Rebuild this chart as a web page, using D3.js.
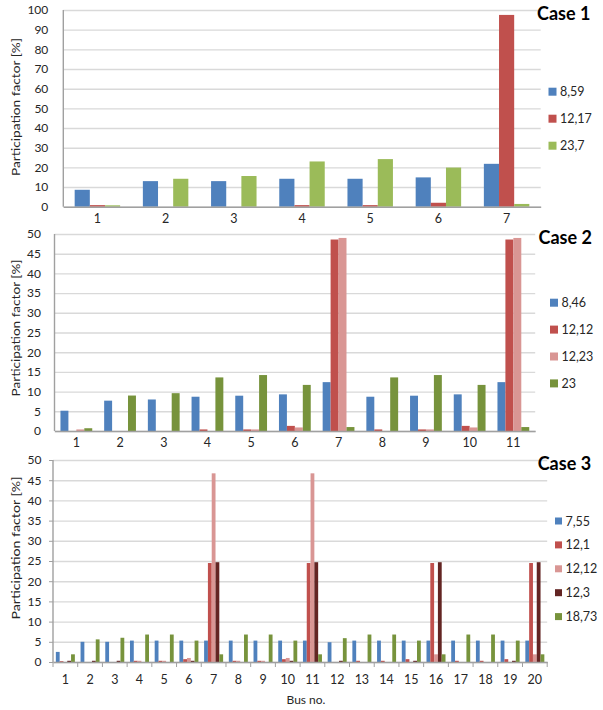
<!DOCTYPE html>
<html>
<head>
<meta charset="utf-8">
<script src="https://cdn.jsdelivr.net/npm/d3@7/dist/d3.min.js"></script>
<style>
  body { margin: 0; background: #fff; }
  svg { display: block; }
  text { font-family: Lato, "Open Sans", sans-serif; }
</style>
</head>
<body>
<svg id="chart" width="603" height="710"></svg>
<script>
// ---------------- DATA ----------------
// Case 1
const case1Buses = ["1", "2", "3", "4", "5", "6", "7"];
const case1Series = ["8,59", "12,17", "23,7"];
const case1_859 = [8.6, 13.0, 13.0, 14.2, 14.2, 14.9, 21.8];
const case1_1217 = [0.8, 0, 0, 0.8, 0.8, 2.0, 97.5];
const case1_237 = [0.7, 14.2, 15.6, 23.0, 24.2, 19.9, 1.4];
const case1Ticks = [0, 10, 20, 30, 40, 50, 60, 70, 80, 90, 100];

// Case 2
const case2Buses = ["1", "2", "3", "4", "5", "6", "7", "8", "9", "10", "11"];
const case2Series = ["8,46", "12,12", "12,23", "23"];
const case2_846 = [5.15, 7.7, 8.0, 8.7, 8.96, 9.3, 12.4, 8.7, 8.96, 9.3, 12.4];
const case2_1212 = [0, 0, 0, 0.4, 0.4, 1.3, 48.6, 0.4, 0.4, 1.3, 48.6];
const case2_1223 = [0.4, 0, 0, 0, 0.4, 0.9, 49.0, 0, 0.4, 0.9, 49.0];
const case2_23 = [0.7, 9.0, 9.6, 13.6, 14.2, 11.7, 1.0, 13.6, 14.2, 11.7, 1.0];
const case2Ticks = [0, 5, 10, 15, 20, 25, 30, 35, 40, 45, 50];

// Case 3
const case3Buses = ["1", "2", "3", "4", "5", "6", "7", "8", "9", "10",
                    "11", "12", "13", "14", "15", "16", "17", "18", "19", "20"];
const case3Series = ["7,55", "12,1", "12,12", "12,3", "18,73"];
const case3_755 = [2.5, 5.0, 5.0, 5.3, 5.3, 5.3, 5.3, 5.3, 5.3, 5.3, 5.3, 4.9, 5.3, 5.3, 5.3, 5.3, 5.3, 5.3, 5.3, 5.3];
const case3_121 = [0.2, 0, 0, 0.3, 0.3, 0.7, 24.5, 0.3, 0.3, 0.7, 24.5, 0, 0.3, 0.3, 0.7, 24.5, 0.3, 0.3, 0.7, 24.5];
const case3_1212 = [0, 0, 0, 0.3, 0.3, 1.0, 46.7, 0.3, 0.3, 1.0, 46.7, 0, 0, 0, 0, 1.9, 0, 0, 0, 1.9];
const case3_123 = [0.3, 0.3, 0.3, 0, 0, 0.3, 24.7, 0, 0, 0.3, 24.7, 0.3, 0, 0, 0.3, 24.7, 0, 0, 0.3, 24.7];
const case3_1873 = [1.9, 5.6, 6.0, 6.8, 6.8, 5.3, 1.9, 6.8, 6.8, 5.3, 1.9, 5.9, 6.8, 6.8, 5.3, 1.9, 6.8, 6.8, 5.3, 1.9];
const case3Ticks = [0, 5, 10, 15, 20, 25, 30, 35, 40, 45, 50];

const yTitle = "Participation factor [%]";
const xTitle = "Bus no.";

// ---------------- STYLE ----------------
const C = {
  blue: "#4f81bd", red: "#c0504d", lgreen: "#9bbb59",
  pink: "#d99694", dred: "#632523", olive: "#77933c"
};
const gridColor = "#d9d9d9";
const axisColor = "#a0a0a0";
const textColor = "#262626";

const svg = d3.select("#chart");

function drawPanel(cfg) {
  const g = svg.append("g");
  const n = cfg.series.length;
  const pi = 1.5 / (n + 1.5);
  const x0 = d3.scaleBand().domain(cfg.buses)
    .range([cfg.left, cfg.right]).paddingInner(pi).paddingOuter(pi / 2);
  const x1 = d3.scaleBand().domain(d3.range(n)).range([0, x0.bandwidth()]);
  const y = d3.scaleLinear().domain([0, cfg.yMax]).range([cfg.bottom, cfg.top]);

  // gridlines + y labels
  const yAxis = d3.axisLeft(y).tickValues(cfg.ticks)
    .tickSize(-(cfg.right - cfg.left)).tickPadding(cfg.tickPad)
    .tickFormat(d3.format("d"));
  const ya = g.append("g").attr("transform", `translate(${cfg.left},0)`).call(yAxis);
  ya.select(".domain").remove();
  ya.selectAll(".tick line").attr("stroke", gridColor).attr("stroke-width", 1.4);
  ya.selectAll(".tick text").attr("fill", textColor)
    .style("font-size", cfg.tickFont + "px");
  if (cfg.yTicksOut) {
    ya.selectAll(".tick").append("line")
      .attr("x1", -4).attr("x2", 0).attr("stroke", axisColor).attr("stroke-width", 1);
  }

  // bars
  const groups = g.append("g").selectAll("g").data(cfg.buses).join("g")
    .attr("transform", d => `translate(${x0(d)},0)`);
  groups.selectAll("rect")
    .data((d, i) => cfg.values.map((arr, s) => ({ s, v: arr[i] })))
    .join("rect")
    .attr("x", d => x1(d.s))
    .attr("width", x1.bandwidth())
    .attr("y", d => y(d.v))
    .attr("height", d => y(0) - y(d.v))
    .attr("fill", d => cfg.colors[d.s]);

  // y axis line
  g.append("line").attr("x1", cfg.left).attr("x2", cfg.left)
    .attr("y1", cfg.top).attr("y2", cfg.bottom)
    .attr("stroke", axisColor).attr("stroke-width", 1.4);

  // x axis
  const xAxis = d3.axisBottom(x0).tickSize(0).tickPadding(cfg.xPad);
  const xa = g.append("g").attr("transform", `translate(0,${cfg.bottom})`).call(xAxis);
  xa.select(".domain").attr("stroke", axisColor).attr("stroke-width", 1.6);
  xa.selectAll(".tick text").attr("fill", textColor)
    .style("font-size", cfg.xFont + "px");
  if (cfg.xTicks) {
    const step = x0.step();
    const bounds = d3.range(cfg.buses.length + 1).map(i => cfg.left + i * step);
    g.append("g").selectAll("line").data(bounds).join("line")
      .attr("x1", d => d).attr("x2", d => d)
      .attr("y1", cfg.bottom).attr("y2", cfg.bottom + 5)
      .attr("stroke", axisColor).attr("stroke-width", 1);
  }

  // y title
  g.append("text")
    .attr("transform", `translate(${cfg.yTitleX},${cfg.yTitleY}) rotate(-90)`)
    .attr("text-anchor", "middle").attr("dominant-baseline", "central")
    .attr("textLength", cfg.yTitleLen).attr("lengthAdjust", "spacingAndGlyphs")
    .attr("fill", textColor).style("font-size", "11.5px")
    .text(yTitle);

  // case title
  g.append("text").attr("x", cfg.titleX).attr("y", cfg.titleY)
    .attr("dominant-baseline", "central")
    .attr("fill", "#000").style("font-size", "18px").style("font-weight", "bold")
    .text(cfg.title);

  // legend
  const lg = g.append("g").selectAll("g").data(cfg.series).join("g")
    .attr("transform", (d, i) => `translate(${cfg.legX},${cfg.legY + i * cfg.legStep})`);
  lg.append("rect").attr("x", 0).attr("y", -cfg.legSq / 2)
    .attr("width", cfg.legSq).attr("height", cfg.legSq)
    .attr("fill", (d, i) => cfg.colors[i]);
  lg.append("text").attr("x", cfg.legSq + 3.5).attr("y", 0)
    .attr("dominant-baseline", "central").attr("fill", textColor)
    .style("font-size", "12.5px").text(d => d);
}

drawPanel({
  buses: case1Buses, series: case1Series,
  values: [case1_859, case1_1217, case1_237],
  colors: [C.blue, C.red, C.lgreen],
  yMax: 100, ticks: case1Ticks,
  left: 63.3, right: 540.7, top: 10, bottom: 206.7,
  tickPad: 15, tickFont: 12, xPad: 7, xFont: 12.5,
  yTitleX: 15, yTitleY: 107, yTitleLen: 138,
  title: "Case 1", titleX: 537, titleY: 13,
  legX: 548.5, legY: 91.7, legStep: 27, legSq: 8
});

drawPanel({
  buses: case2Buses, series: case2Series,
  values: [case2_846, case2_1212, case2_1223, case2_23],
  colors: [C.blue, C.red, C.pink, C.olive],
  yMax: 50, ticks: case2Ticks,
  left: 54.5, right: 535.2, top: 234, bottom: 431,
  tickPad: 13.5, tickFont: 12, xPad: 7, xFont: 12.5,
  yTitleX: 15, yTitleY: 328, yTitleLen: 137,
  title: "Case 2", titleX: 538.5, titleY: 237,
  legX: 550, legY: 302.7, legStep: 26.9, legSq: 8
});

drawPanel({
  buses: case3Buses, series: case3Series,
  values: [case3_755, case3_121, case3_1212, case3_123, case3_1873],
  colors: [C.blue, C.red, C.pink, C.dred, C.olive],
  yMax: 50, ticks: case3Ticks,
  left: 53, right: 547.2, top: 460, bottom: 662,
  tickPad: 11.5, tickFont: 12, xPad: 13, xFont: 12.5, xTicks: true, yTicksOut: true,
  yTitleX: 15, yTitleY: 548, yTitleLen: 143,
  title: "Case 3", titleX: 537.7, titleY: 463.3,
  legX: 555, legY: 521, legStep: 23.9, legSq: 7
});

svg.append("text").attr("x", 306).attr("y", 699)
  .attr("text-anchor", "middle").attr("dominant-baseline", "central")
  .attr("fill", textColor).style("font-size", "12px").text(xTitle);
</script>
</body>
</html>
